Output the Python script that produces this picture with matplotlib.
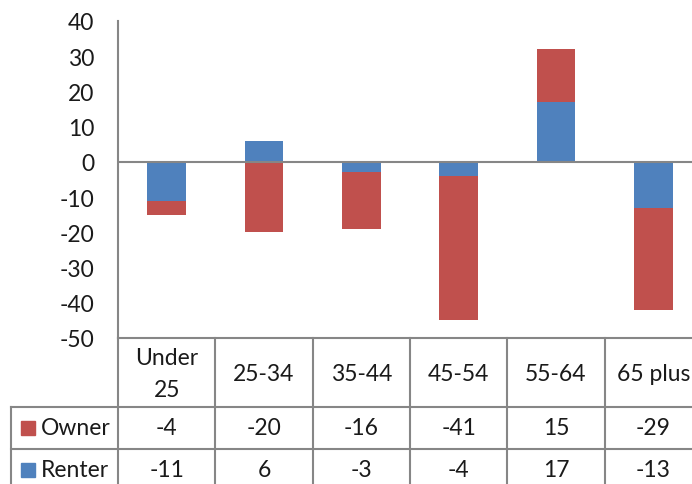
import matplotlib
matplotlib.use('Agg')
import matplotlib.pyplot as plt
import matplotlib.transforms as mtransforms
import numpy as np

categories = ["Under\n25", "25-34", "35-44", "45-54", "55-64", "65 plus"]
owner = [-4, -20, -16, -41, 15, -29]
renter = [-11, 6, -3, -4, 17, -13]
series = [("Owner", owner, "#C0504D"), ("Renter", renter, "#4F81BD")]
yticks = [40, 30, 20, 10, 0, -10, -20, -30, -40, -50]

GRAY = "#868686"
TXT = "#1a1a1a"
FS = 16.5
plt.rcParams['font.family'] = ['Lato', 'DejaVu Sans']

W, H = 692, 485
fig = plt.figure(figsize=(W / 100, H / 100), dpi=100)
ax_left, ax_right, ax_top, ax_bot = 118, 702, 22, 339
ax = fig.add_axes([ax_left / W, 1 - ax_bot / H, (ax_right - ax_left) / W, (ax_bot - ax_top) / H])

x = np.arange(len(categories))
r = np.array(renter, dtype=float)
o = np.array(owner, dtype=float)
# excel stacks positives and negatives separately
o_bottom = np.where(np.sign(o) == np.sign(r), r, 0)

ax.bar(x, r, width=0.4, color="#4F81BD", zorder=2)
ax.bar(x, o, width=0.4, bottom=o_bottom, color="#C0504D", zorder=2)
ax.axhline(0, color=GRAY, lw=1.5, zorder=3)

ax.set_xlim(-0.5, len(categories) - 0.5)
ax.set_ylim(-50, 40)
ax.set_yticks(yticks)
ax.set_yticklabels([str(t) for t in yticks], fontsize=FS, color=TXT)
ax.tick_params(axis='y', length=0, pad=17)
ax.set_xticks([])
for s in ['top', 'right']:
    ax.spines[s].set_visible(False)
for s in ['left', 'bottom']:
    ax.spines[s].set_color(GRAY)
    ax.spines[s].set_linewidth(1.5)

# data table below the axes, x in data units, y in axes fraction
trans = mtransforms.blended_transform_factory(ax.transData, ax.transAxes)
ph = ax_bot - ax_top
def yf(px):
    return (ax_bot - px) / ph

col_w = (ax_right - ax_left) / len(categories)
x_tab_left = (11 - ax_left) / col_w - 0.5
hdr_bot, row1_bot, row2_bot = 408, 450, 492

line_kw = dict(color=GRAY, lw=1.5, transform=trans, clip_on=False)
for i in range(len(categories) + 1):
    ax.plot([i - 0.5, i - 0.5], [0, yf(row2_bot)], **line_kw)
ax.plot([x_tab_left, x_tab_left], [yf(hdr_bot), yf(row2_bot)], **line_kw)
for yy in [hdr_bot, row1_bot, row2_bot]:
    ax.plot([x_tab_left, len(categories) - 0.5], [yf(yy), yf(yy)], **line_kw)

hdr_c = yf((ax_bot + hdr_bot) / 2 + 1)
for i, c in enumerate(categories):
    ax.text(i, hdr_c, c, ha='center', va='center', fontsize=FS, color=TXT,
            transform=trans, linespacing=1.65)

row_tops = [hdr_bot, row1_bot]
row_bots = [row1_bot, row2_bot]
key_x = (27.5 - ax_left) / col_w - 0.5
lab_x = (41 - ax_left) / col_w - 0.5
for (name, vals, color), top, bot in zip(series, row_tops, row_bots):
    yc = yf((top + bot) / 2)
    ax.plot([key_x], [yc], marker='s', ms=9.5, color=color, transform=trans, clip_on=False)
    ax.text(lab_x, yc, name, ha='left', va='center', fontsize=FS, color=TXT, transform=trans)
    for i, v in enumerate(vals):
        ax.text(i, yc, str(v), ha='center', va='center', fontsize=FS, color=TXT, transform=trans)

fig.savefig("out.png", dpi=100)
